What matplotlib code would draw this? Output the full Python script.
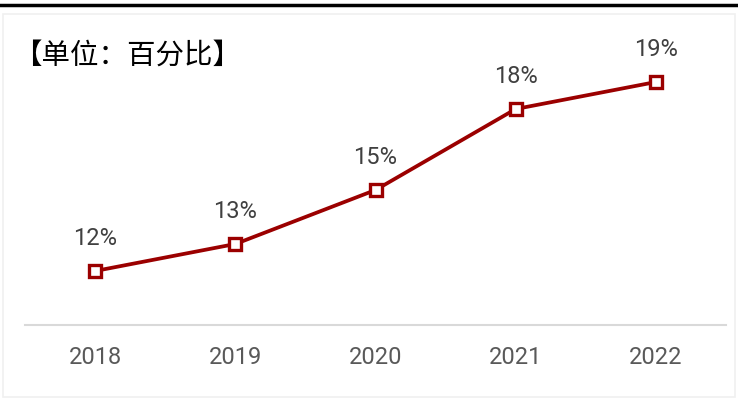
"""Line chart: yearly share in percent."""

import matplotlib.pyplot as plt
from matplotlib.patches import Rectangle
from matplotlib.lines import Line2D

years = ["2018", "2019", "2020", "2021", "2022"]
values = [12, 13, 15, 18, 19]
title = "【单位：百分比】"

fig = plt.figure(figsize=(7.38, 4.01), dpi=100)

# thin frame and thick top rule
fig.add_artist(Rectangle((0.004, 0.01), 0.992, 0.955, transform=fig.transFigure,
                         fill=False, edgecolor="#f0f0f0", linewidth=1.2))
fig.add_artist(Line2D([0, 1], [0.988, 0.988], transform=fig.transFigure,
                      color="black", linewidth=2.5))

ax = fig.add_axes([25 / 738, 1 - 325 / 401, 701 / 738, 297 / 401])
x = list(range(len(years)))
ax.plot(x, values, color="#9b0000", linewidth=2.7, marker="s", markersize=8.5,
        markerfacecolor="white", markeredgecolor="#9b0000", markeredgewidth=2.4)

for xi, v in zip(x, values):
    ax.annotate(f"{v}%", (xi, v), xytext=(0, 15), textcoords="offset points",
                ha="center", va="bottom", fontsize=17, color="#404040",
                family=["Roboto", "DejaVu Sans"])

ax.set_xlim(-0.5, 4.5)
ax.set_ylim(10, 21)
ax.set_xticks(x)
ax.set_xticklabels(years, fontsize=17, color="#595959", family=["Roboto", "DejaVu Sans"])
ax.tick_params(axis="x", length=0, pad=15)
ax.set_yticks([])
for side in ["top", "left", "right"]:
    ax.spines[side].set_visible(False)
ax.spines["bottom"].set_color("#d9d9d9")
ax.spines["bottom"].set_linewidth(1.5)

fig.text(13 / 738, 1 - 56 / 401, title, fontsize=20.5, color="black", va="center",
         ha="left", family=["Noto Sans CJK SC", "DejaVu Sans"])

fig.savefig("out.png", dpi=100)
